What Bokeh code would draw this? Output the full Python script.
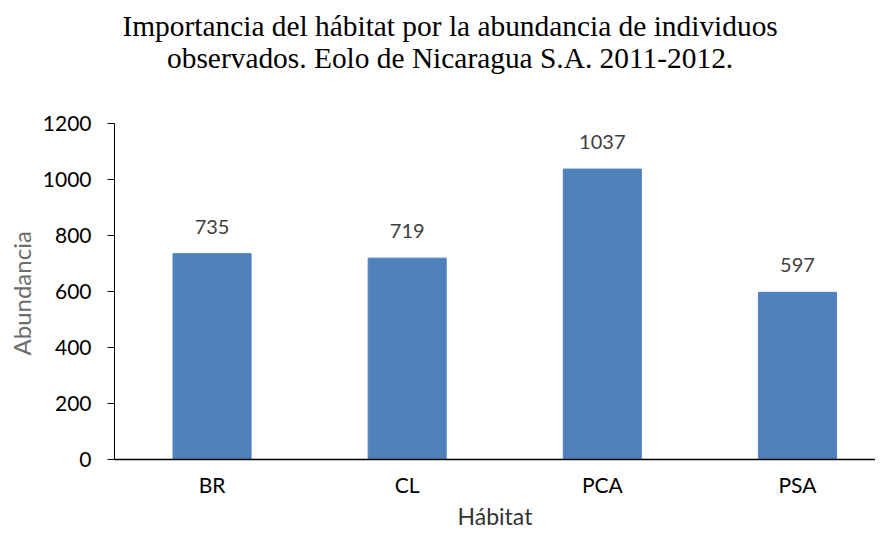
from bokeh.plotting import figure
from bokeh.models import Range1d, FixedTicker, ColumnDataSource, Title
from bokeh.core.properties import value
from bokeh.embed import file_html
from bokeh.resources import INLINE

categories = ["BR", "CL", "PCA", "PSA"]
abundancia = [735, 719, 1037, 597]
y_ticks = [0, 200, 400, 600, 800, 1000, 1200]
title_lines = ["Importancia del hábitat por la abundancia de individuos",
               "observados. Eolo de Nicaragua S.A. 2011-2012."]

xs = [i + 0.5 for i in range(len(categories))]
src = ColumnDataSource(dict(x=xs, top=abundancia, lab=[str(v) for v in abundancia]))

# plot frame reaches the top of the canvas; the y axis is drawn over 0..1200 only
p = figure(width=875, height=532, output_backend="svg", toolbar_location=None,
           x_range=Range1d(0, 3.9), y_range=Range1d(0, 1639),
           min_border_left=107, min_border_right=0, min_border_top=0,
           min_border_bottom=73)
p.title.visible = False
p.outline_line_color = None
p.background_fill_color = "white"
p.border_fill_color = "white"
p.xgrid.visible = False
p.ygrid.visible = False

p.vbar(x="x", top="top", width=0.4, source=src, fill_color="#4F81BD",
       line_color="#4F81BD")
p.text(x="x", y="top", text="lab", source=src, text_align="center",
       text_baseline="middle", y_offset=-27, text_font=value("Lato"),
       text_font_size="20px", text_color="#404040")

tsrc = ColumnDataSource(dict(x=[1.72, 1.72], y=[1548, 1434], t=title_lines))
p.text(x="x", y="y", text="t", source=tsrc, text_align="center",
       text_baseline="alphabetic", text_font=value("Liberation Serif"),
       text_font_size="29.4px", text_color="black")

sans = "Lato"
ya = p.yaxis[0]
ya.bounds = (0, 1200)
ya.ticker = FixedTicker(ticks=y_ticks)
ya.minor_tick_line_color = None
ya.major_tick_in = 0
ya.major_tick_out = 7
ya.major_label_standoff = 16
ya.major_label_text_font = sans
ya.major_label_text_font_size = "21px"
ya.major_label_text_color = "black"
ya.axis_line_color = "black"
ya.major_tick_line_color = "black"

# y axis title, placed along the 0..1200 span of the axis
p.add_layout(Title(text="Abundancia", align="left", offset=104,
                   vertical_align="bottom", standoff=8,
                   text_font=sans, text_font_size="24px",
                   text_font_style="normal", text_color="#6d6d6d"), "left")

xa = p.xaxis[0]
xa.ticker = FixedTicker(ticks=xs)
xa.major_label_overrides = {x: c for x, c in zip(xs, categories)}
xa.minor_tick_line_color = None
xa.major_tick_line_color = None
xa.major_tick_in = 0
xa.major_tick_out = 0
xa.major_label_standoff = 12
xa.major_label_text_font = sans
xa.major_label_text_font_size = "21px"
xa.major_label_text_color = "black"
xa.axis_line_color = "black"
xa.axis_line_width = 1.5
xa.axis_label = "Hábitat"
xa.axis_label_text_font = sans
xa.axis_label_text_font_size = "23px"
xa.axis_label_text_font_style = "normal"
xa.axis_label_text_color = "#333333"
xa.axis_label_standoff = 2

open("out.html", "w").write(file_html(p, INLINE))
